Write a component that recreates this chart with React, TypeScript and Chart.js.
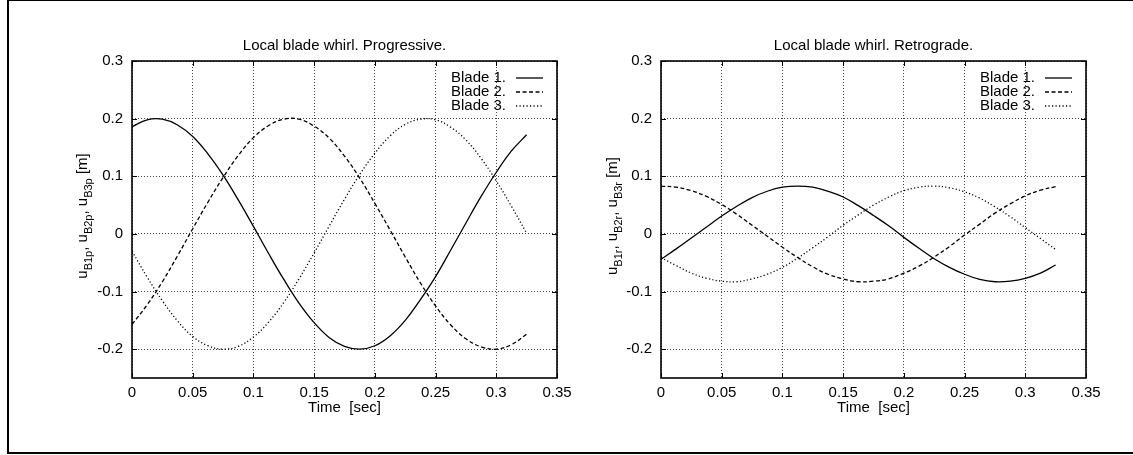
import React, { useEffect, useRef } from 'react';
import { Chart, registerables } from 'chart.js';

Chart.register(...registerables);

// ---- data ----
const TIME = [0, 0.0125, 0.025, 0.0375, 0.05, 0.0625, 0.075, 0.0875, 0.1, 0.1125, 0.125, 0.1375, 0.15, 0.1625, 0.175, 0.1875, 0.2, 0.2125, 0.225, 0.2375, 0.25, 0.2625, 0.275, 0.2875, 0.3, 0.3125, 0.325];

const PRO_BLADE_1 = [0.186, 0.198, 0.199, 0.189, 0.169, 0.139, 0.102, 0.059, 0.013, -0.034, -0.079, -0.120, -0.154, -0.180, -0.195, -0.200, -0.194, -0.177, -0.150, -0.114, -0.074, -0.028, 0.019, 0.065, 0.107, 0.144, 0.172];
const PRO_BLADE_2 = [-0.157, -0.123, -0.083, -0.038, 0.009, 0.055, 0.098, 0.136, 0.167, 0.188, 0.199, 0.199, 0.187, 0.166, 0.135, 0.097, 0.053, 0.007, -0.040, -0.085, -0.125, -0.158, -0.182, -0.196, -0.200, -0.192, -0.174];
const PRO_BLADE_3 = [-0.030, -0.075, -0.116, -0.151, -0.178, -0.194, -0.200, -0.195, -0.179, -0.153, -0.119, -0.078, -0.033, 0.014, 0.060, 0.103, 0.140, 0.170, 0.190, 0.199, 0.198, 0.185, 0.163, 0.131, 0.092, 0.048, 0.001];

const RET_BLADE_1 = [-0.044, -0.026, -0.007, 0.012, 0.031, 0.048, 0.063, 0.074, 0.081, 0.083, 0.081, 0.074, 0.064, 0.049, 0.032, 0.014, -0.006, -0.025, -0.043, -0.058, -0.070, -0.079, -0.083, -0.082, -0.077, -0.068, -0.054];
const RET_BLADE_2 = [0.083, 0.081, 0.075, 0.065, 0.051, 0.034, 0.015, -0.004, -0.023, -0.041, -0.057, -0.070, -0.078, -0.083, -0.082, -0.078, -0.068, -0.056, -0.040, -0.022, -0.002, 0.017, 0.036, 0.052, 0.066, 0.076, 0.082];
const RET_BLADE_3 = [-0.041, -0.055, -0.068, -0.077, -0.082, -0.083, -0.078, -0.070, -0.058, -0.042, -0.024, -0.005, 0.015, 0.033, 0.050, 0.064, 0.075, 0.081, 0.083, 0.080, 0.073, 0.062, 0.047, 0.030, 0.011, -0.008, -0.027];

const SERIES_LABELS = ['Blade 1.', 'Blade 2.', 'Blade 3.'];
const X_TICKS = [0, 0.05, 0.1, 0.15, 0.2, 0.25, 0.3, 0.35];
const X_TICK_LABELS = ['0', '0.05', '0.1', '0.15', '0.2', '0.25', '0.3', '0.35'];
const Y_TICKS = [-0.2, -0.1, 0, 0.1, 0.2, 0.3];
const Y_TICK_LABELS = ['-0.2', '-0.1', '0', '0.1', '0.2', '0.3'];
const TITLE_PRO = 'Local blade whirl. Progressive.';
const TITLE_RET = 'Local blade whirl. Retrograde.';
const X_TITLE = 'Time  [sec]';
// "_" prefix marks a subscript run
const Y_LABEL_PRO = ['u', '_B1p', ', ', 'u', '_B2p', ', ', 'u', '_B3p', ' [m]'];
const Y_LABEL_RET = ['u', '_B1r', ', ', 'u', '_B2r', ', ', 'u', '_B3r', ' [m]'];

const FONT = '"Liberation Sans", Arial, Helvetica, sans-serif';
const HEIGHT = 455;
const DASHES = [[], [4, 2.5], [1.2, 2.3]];

type Props = {
  left: number;
  width: number;
  areaLeft: number;
  areaRight: number;
  yLabelX: number;
  title: string;
  yLabel: string[];
  series: number[][];
};

function WhirlChart(p: Props) {
  const ref = useRef<HTMLCanvasElement>(null);

  useEffect(() => {
    const canvas = ref.current;
    if (!canvas) return;

    const decor = {
      id: 'gnuplotDecor',
      afterDraw(chart: any) {
        const { ctx, chartArea: a, scales } = chart;
        const line = (x1: number, y1: number, x2: number, y2: number) => {
          ctx.beginPath();
          ctx.moveTo(x1, y1);
          ctx.lineTo(x2, y2);
          ctx.stroke();
        };
        ctx.save();
        ctx.strokeStyle = '#000';
        ctx.setLineDash([]);
        // tick marks (inward, mirrored)
        ctx.lineWidth = 1;
        const T = 5;
        scales.x.ticks.forEach((t: any) => {
          const px = Math.round(scales.x.getPixelForValue(t.value)) + 0.5;
          line(px, a.bottom, px, a.bottom - T);
          line(px, a.top, px, a.top + T);
        });
        scales.y.ticks.forEach((t: any) => {
          const py = Math.round(scales.y.getPixelForValue(t.value)) + 0.5;
          line(a.left, py, a.left + T, py);
          line(a.right, py, a.right - T, py);
        });
        // border
        ctx.lineWidth = 1.6;
        ctx.strokeRect(a.left, a.top, a.right - a.left, a.bottom - a.top);

        // key
        ctx.font = `15px ${FONT}`;
        ctx.fillStyle = '#000';
        ctx.textAlign = 'right';
        ctx.textBaseline = 'middle';
        chart.data.datasets.forEach((ds: any, i: number) => {
          const y = a.top + 17 + i * 14;
          ctx.setLineDash([]);
          ctx.fillText(ds.label, a.right - 51, y);
          ctx.setLineDash(ds.borderDash || []);
          ctx.lineWidth = ds.borderWidth;
          line(a.right - 41, y, a.right - 14, y);
        });

        // rotated y label with subscripts
        ctx.setLineDash([]);
        const mainFont = `15px ${FONT}`;
        const subFont = `11px ${FONT}`;
        const runs = p.yLabel.map((s) => (s.startsWith('_') ? { t: s.slice(1), sub: true } : { t: s, sub: false }));
        let total = 0;
        const widths = runs.map((r) => {
          ctx.font = r.sub ? subFont : mainFont;
          const w = ctx.measureText(r.t).width;
          total += w;
          return w;
        });
        ctx.translate(p.yLabelX, 216);
        ctx.rotate(-Math.PI / 2);
        ctx.textAlign = 'left';
        ctx.textBaseline = 'alphabetic';
        let x = -total / 2;
        runs.forEach((r, i) => {
          ctx.font = r.sub ? subFont : mainFont;
          ctx.fillText(r.t, x, r.sub ? 5 : 0);
          x += widths[i];
        });
        ctx.restore();
      },
    };

    const chart = new Chart(canvas, {
      type: 'line',
      data: {
        datasets: p.series.map((vals, i) => ({
          label: SERIES_LABELS[i],
          data: TIME.map((t, j) => ({ x: t, y: vals[j] })),
          borderColor: '#000',
          backgroundColor: '#000',
          borderWidth: 1.3,
          borderDash: DASHES[i],
          pointRadius: 0,
          fill: false,
          tension: 0.4,
        })),
      },
      options: {
        animation: false,
        responsive: false,
        devicePixelRatio: 1,
        events: [],
        layout: { padding: { left: 0, right: p.width - p.areaRight, top: 0, bottom: 0 } },
        plugins: {
          legend: { display: false },
          tooltip: { enabled: false },
          title: {
            display: true,
            text: p.title,
            fullSize: false,
            color: '#000',
            font: { family: FONT, size: 15, weight: 'normal', lineHeight: 1.2 },
            padding: { top: 37, bottom: 6 },
          },
        },
        scales: {
          x: {
            type: 'linear',
            min: 0,
            max: 0.35,
            afterBuildTicks: (scale: any) => {
              scale.ticks = X_TICKS.map((v) => ({ value: v }));
            },
            afterFit: (scale: any) => {
              scale.height = HEIGHT - 378;
            },
            ticks: {
              autoSkip: false,
              maxRotation: 0,
              padding: 6,
              color: '#000',
              font: { family: FONT, size: 15 },
              callback: (_v: any, i: number) => X_TICK_LABELS[i],
            },
            grid: { color: '#444', lineWidth: 1, drawTicks: false },
            border: { display: false, dash: [1, 2] },
            title: {
              display: true,
              text: X_TITLE,
              color: '#000',
              font: { family: FONT, size: 15, lineHeight: 1.2 },
              padding: { top: 0, bottom: 38 },
            },
          },
          y: {
            type: 'linear',
            min: -0.25,
            max: 0.3,
            afterBuildTicks: (scale: any) => {
              scale.ticks = Y_TICKS.map((v) => ({ value: v }));
            },
            afterFit: (scale: any) => {
              scale.width = p.areaLeft;
            },
            ticks: {
              autoSkip: false,
              padding: 9,
              color: '#000',
              font: { family: FONT, size: 15 },
              callback: (_v: any, i: number) => Y_TICK_LABELS[i],
            },
            grid: { color: '#444', lineWidth: 1, drawTicks: false },
            border: { display: false, dash: [1, 2] },
          },
        },
      },
      plugins: [decor],
    } as any);

    return () => chart.destroy();
  }, []);

  return (
    <canvas
      ref={ref}
      width={p.width}
      height={HEIGHT}
      style={{ position: 'absolute', left: p.left, top: 0, width: p.width, height: HEIGHT }}
    />
  );
}

export default function App() {
  return (
    <div
      style={{
        position: 'absolute',
        left: 0,
        top: 0,
        width: 1133,
        height: 455,
        overflow: 'hidden',
        background: '#fff',
      }}
    >
      <div
        style={{
          position: 'absolute',
          left: 7,
          top: -1,
          width: 1140,
          height: 455,
          border: '2px solid #000',
          boxSizing: 'border-box',
        }}
      />
      <WhirlChart
        left={0}
        width={580}
        areaLeft={132}
        areaRight={557}
        yLabelX={87}
        title={TITLE_PRO}
        yLabel={Y_LABEL_PRO}
        series={[PRO_BLADE_1, PRO_BLADE_2, PRO_BLADE_3]}
      />
      <WhirlChart
        left={580}
        width={553}
        areaLeft={81}
        areaRight={506}
        yLabelX={36.5}
        title={TITLE_RET}
        yLabel={Y_LABEL_RET}
        series={[RET_BLADE_1, RET_BLADE_2, RET_BLADE_3]}
      />
    </div>
  );
}
